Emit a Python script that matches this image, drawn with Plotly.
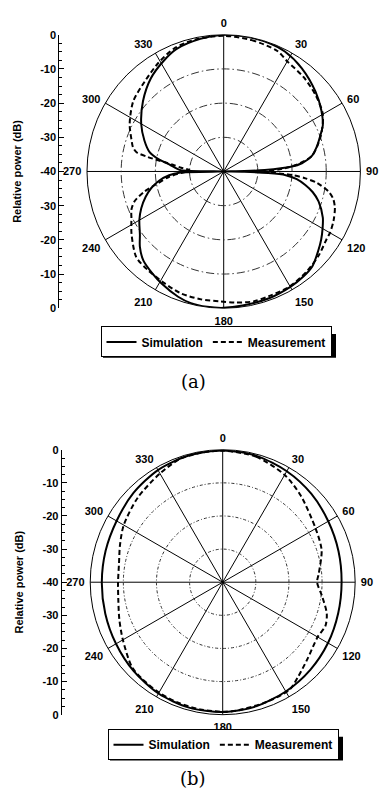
import plotly.graph_objects as go

# ---------------- data ----------------
ANGLE_TICKS = [0, 30, 60, 90, 120, 150, 180, 210, 240, 270, 300, 330]
ANGLE_LABELS = ["0", "30", "60", "90", "120", "150", "180", "210", "240", "270", "300", "330"]
GRID_DB = [-30, -20, -10]
SCALE_VALS = [40, 30, 20, 10, 0, -10, -20, -30, -40]
SCALE_LABELS = ["0", "-10", "-20", "-30", "-40", "-30", "-20", "-10", "0"]

# (a) simulation
sim_a_theta = [0, 10, 20, 27, 37, 49, 58, 65, 70, 75, 80, 84, 86, 88, 89, 90,
               91, 92, 93.4, 96, 99.4, 103, 107.5, 115, 120, 125, 130, 137, 143, 150, 160, 172, 180,
               187, 194, 200, 209, 215, 222, 228, 233, 240, 246, 252, 257, 262, 266, 268.5, 270,
               271.7, 274, 276.7, 281, 284.6, 291.3, 299.8, 311, 322, 331, 339, 350, 360]
sim_a_r = [0.0, 0.0, -0.2, -0.6, -2.1, -4.4, -6.3, -8.0, -10.0, -11.8, -13.8, -17.0, -20.3, -28.0, -34.0, -40.0,
           -34.0, -27.0, -21.8, -18.5, -15.8, -13.3, -10.9, -8.0, -6.6, -5.2, -3.9, -2.0, -1.4, -1.0, -0.6, -0.4, -0.1,
           -0.1, -0.3, -1.0, -2.5, -3.6, -4.9, -7.0, -9.3, -11.5, -13.6, -16.0, -18.2, -21.0, -24.0, -27.0, -40.0,
           -27.4, -26.0, -24.4, -20.3, -17.6, -15.1, -12.2, -8.7, -5.4, -3.3, -1.6, -0.6, 0.0]

# (a) measurement
meas_a_theta = [0, 12, 24, 30, 40, 50, 60, 70, 80, 85, 88, 90,
                91, 93, 94.8, 97, 100.8, 104, 108, 114, 120, 123, 131.5, 140, 150, 160, 167, 175, 181.6,
                190, 199.5, 208, 217.5, 225.6, 235.8, 243.4, 247.6, 251.5, 255.8, 259.8, 264.5, 268, 270,
                272, 275, 277.5, 279, 280.8, 282.5, 285, 288.5, 296.7, 307.8, 318.6, 328.6, 338, 348, 360]
meas_a_r = [-0.3, -0.7, -1.4, -2.8, -3.8, -5.0, -6.5, -9.8, -13.8, -19.0, -24.0, -28.0,
            -26.7, -20.0, -16.0, -12.5, -8.8, -7.0, -5.8, -4.8, -4.1, -4.0, -2.9, -2.0, -1.2, -1.2, -1.0, -1.5, -2.0,
            -2.0, -2.2, -3.0, -3.6, -4.2, -7.4, -9.8, -10.8, -12.5, -16.1, -20.4, -24.0, -27.5, -29.3,
            -30.0, -27.5, -25.0, -22.4, -17.4, -13.8, -12.5, -11.6, -9.2, -6.5, -5.0, -3.0, -1.2, -0.5, -0.3]

# (b) simulation
sim_b_theta = [0, 15, 30, 45, 60, 75, 90, 105, 120, 135, 150, 165, 180,
               195, 210, 225, 240, 255, 270, 285, 300, 315, 330, 345, 360]
sim_b_r = [-0.2, -0.5, -1.3, -2.2, -3.2, -3.8, -4.1, -3.9, -3.3, -2.6, -1.9, -1.2, -0.8,
           -0.8, -1.2, -2.0, -2.8, -3.3, -3.5, -3.4, -3.0, -1.9, -0.9, -0.4, -0.2]

# (b) measurement
meas_b_theta = [0, 15, 30, 42, 60, 72, 85, 90, 98, 106.7, 113, 120, 132, 141, 148, 160, 174, 180,
                190, 200, 210, 220, 227, 240, 250, 260, 270, 280, 290, 300, 315, 330, 341, 350, 360]
meas_b_r = [-0.3, -0.8, -2.6, -4.8, -7.6, -8.6, -10.9, -11.5, -9.7, -7.2, -6.3, -6.9, -5.5, -3.6, -1.8, -1.5, -1.0, -0.9,
            -1.0, -1.2, -1.5, -2.0, -2.5, -5.2, -6.8, -8.0, -8.4, -8.2, -7.0, -5.5, -3.8, -2.1, -0.6, -0.4, -0.3]

# ---------------- figure ----------------
W, H = 379, 799
SANS = "Liberation Sans, Arial, sans-serif"


def px_x(p):
    return p / W


def px_y(p):
    return 1 - p / H


fig = go.Figure()

line_solid = dict(color="black", width=2, shape="spline", smoothing=0.8)
line_dash = dict(color="black", width=2, dash="5px,3px", shape="spline", smoothing=0.8)

fig.add_trace(go.Scatterpolar(r=sim_a_r, theta=sim_a_theta, mode="lines", line=line_solid,
                              name="Simulation", subplot="polar", legend="legend", hoverinfo="skip"))
fig.add_trace(go.Scatterpolar(r=meas_a_r, theta=meas_a_theta, mode="lines", line=line_dash,
                              name="Measurement", subplot="polar", legend="legend", hoverinfo="skip"))
fig.add_trace(go.Scatterpolar(r=sim_b_r, theta=sim_b_theta, mode="lines", line=line_solid,
                              name="Simulation", subplot="polar2", legend="legend2", hoverinfo="skip"))
fig.add_trace(go.Scatterpolar(r=meas_b_r, theta=meas_b_theta, mode="lines", line=line_dash,
                              name="Measurement", subplot="polar2", legend="legend2", hoverinfo="skip"))

# dummy traces to host the left dB scales
fig.add_trace(go.Scatter(x=[None], y=[None], xaxis="x", yaxis="y", showlegend=False, hoverinfo="skip"))
fig.add_trace(go.Scatter(x=[None], y=[None], xaxis="x", yaxis="y2", showlegend=False, hoverinfo="skip"))


def polar_cfg(cx, cy, R, griddash):
    return dict(
        domain=dict(x=[px_x(cx - R), px_x(cx + R)], y=[px_y(cy + R), px_y(cy - R)]),
        bgcolor="white",
        radialaxis=dict(range=[-40, 0], tickvals=GRID_DB, showticklabels=False, ticks="",
                        showline=False, showgrid=True, gridcolor="#333333", gridwidth=1,
                        griddash=griddash),
        angularaxis=dict(direction="clockwise", rotation=90, tickvals=ANGLE_TICKS,
                         ticktext=ANGLE_LABELS, ticks="outside", ticklen=3,
                         tickcolor="rgba(0,0,0,0)", showline=True, linecolor="black",
                         linewidth=1, showgrid=True, gridcolor="black", gridwidth=1,
                         tickfont=dict(family=SANS, size=11, color="black", weight="bold")),
    )


def scale_axis(cy, R, xpos):
    return dict(
        domain=[px_y(cy + R), px_y(cy - R)], range=[-40, 40], anchor="free", position=xpos,
        tickvals=SCALE_VALS, ticktext=SCALE_LABELS, ticks="inside", ticklen=5, tickwidth=1,
        tickcolor="black", showline=True, linecolor="black", linewidth=1, showgrid=False,
        zeroline=False, tickfont=dict(family=SANS, size=11, color="black", weight="bold"),
        minor=dict(ticks="inside", dtick=2.5, ticklen=3, tickcolor="black", showgrid=False),
        title=dict(text="Relative power (dB)", standoff=15,
                   font=dict(family=SANS, size=11, color="black", weight="bold")),
        fixedrange=True,
    )


def legend_cfg(cx, cy):
    return dict(x=px_x(cx), y=px_y(cy), xanchor="center", yanchor="middle", orientation="h",
                bordercolor="black", borderwidth=1, bgcolor="white",
                font=dict(family=SANS, size=12, color="black", weight="bold"),
                itemwidth=30, tracegroupgap=0)


def shadow(x0, x1, y0, y1):
    return dict(type="rect", xref="paper", yref="paper", x0=px_x(x0), x1=px_x(x1),
                y0=px_y(y1), y1=px_y(y0), fillcolor="black", line=dict(width=0), layer="above")


fig.update_layout(
    width=W, height=H, margin=dict(l=0, r=0, t=0, b=0),
    paper_bgcolor="white", plot_bgcolor="white",
    polar=polar_cfg(223.7, 168.0, 138.8, "8px,3px,1.5px,3px"),
    polar2=polar_cfg(222.7, 585.0, 134.5, "3px,2px,1px,2px"),
    xaxis=dict(domain=[0.15, 0.16], visible=False, fixedrange=True),
    yaxis=scale_axis(168.0, 138.8, px_x(58.3)),
    yaxis2=scale_axis(585.0, 134.5, px_x(60.7)),
    legend=legend_cfg(216, 341),
    legend2=legend_cfg(223, 750),
    showlegend=True,
    shapes=[shadow(103, 336, 333, 357), shadow(110, 343, 742, 766)],
    annotations=[
        dict(text="(a)", x=px_x(193), y=px_y(381), xref="paper", yref="paper", showarrow=False,
             xanchor="center", yanchor="middle",
             font=dict(family="DejaVu Serif, serif", size=18, color="black")),
        dict(text="(b)", x=px_x(193), y=px_y(784), xref="paper", yref="paper", showarrow=False,
             xanchor="center", yanchor="middle",
             font=dict(family="DejaVu Serif, serif", size=18, color="black")),
    ],
)

fig.write_html("out.html")
